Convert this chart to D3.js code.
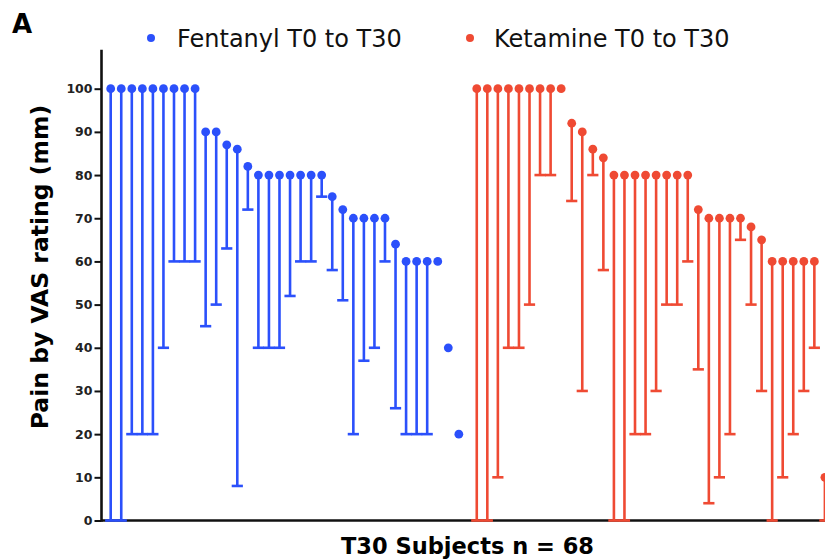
<!DOCTYPE html>
<html>
<head>
<meta charset="utf-8">
<script src="https://cdn.jsdelivr.net/npm/d3@7"></script>
<style>
  html, body { margin: 0; padding: 0; background: #fff; }
  svg { display: block; }
</style>
</head>
<body>
<svg id="chart" width="825" height="559"></svg>
<script>
// ---- Data ----
const fentanylT0  = [100,100,100,100,100,100,100,100,100,90,90,87,86,82,80,80,80,80,80,80,80,75,72,70,70,70,70,64,60,60,60,60,40,20];
const fentanylT30 = [0,0,20,20,20,40,60,60,60,45,50,63,8,72,40,40,40,52,60,60,75,58,51,20,37,40,60,26,20,20,20,60,40,20];
const ketamineT0  = [100,100,100,100,100,100,100,100,100,92,90,86,84,80,80,80,80,80,80,80,80,72,70,70,70,70,68,65,60,60,60,60,60,10];
const ketamineT30 = [0,0,10,40,40,50,80,80,100,74,30,80,58,0,0,20,20,30,50,50,60,35,4,10,20,65,50,30,0,10,20,30,40,0];
const yTicks = [0,10,20,30,40,50,60,70,80,90,100];
const seriesNames = ["Fentanyl T0 to T30", "Ketamine T0 to T30"];
const colors = ["#2b50fb", "#ef4a33"];
const groupGap = 0.7; // extra slot spacing between the two groups

// ---- Build subjects ----
const subjects = [];
fentanylT0.forEach((v, i) => subjects.push({g: 0, slot: i, t0: v, t30: fentanylT30[i]}));
ketamineT0.forEach((v, j) => subjects.push({g: 1, slot: fentanylT0.length + groupGap + j, t0: v, t30: ketamineT30[j]}));

const svg = d3.select("#chart");
const font = "'DejaVu Sans', sans-serif";

const x = d3.scaleLinear()
  .domain([0, d3.max(subjects, d => d.slot)])
  .range([110.7, 824.9]);
const y = d3.scaleLinear().domain([0, 100]).range([520.5, 88.7]);

const axisX = 101.5;

// ---- Y axis ----
const yAxis = svg.append("g")
  .attr("transform", `translate(${axisX},0)`)
  .call(d3.axisLeft(y).tickValues(yTicks).tickSize(7).tickPadding(2).tickSizeOuter(0));
yAxis.select(".domain").remove();
yAxis.selectAll(".tick line").attr("stroke", "#111").attr("stroke-width", 2);
yAxis.selectAll(".tick text")
  .attr("fill", "#222")
  .style("font-family", font)
  .style("font-weight", "bold")
  .style("font-size", "12.5px");
svg.append("line")
  .attr("x1", axisX).attr("x2", axisX)
  .attr("y1", y(109)).attr("y2", y(0) + 1.2)
  .attr("stroke", "#111").attr("stroke-width", 2.6);

// ---- X axis baseline ----
svg.append("line")
  .attr("x1", axisX).attr("x2", 825)
  .attr("y1", y(0)).attr("y2", y(0))
  .attr("stroke", "#111").attr("stroke-width", 2.6);

// ---- Marks ----
const capHalf = 5.6;
const marks = svg.append("g");
marks.selectAll("line.stem")
  .data(subjects.filter(d => d.t0 !== d.t30))
  .join("line")
  .attr("class", "stem")
  .attr("x1", d => x(d.slot)).attr("x2", d => x(d.slot))
  .attr("y1", d => y(d.t0)).attr("y2", d => y(d.t30))
  .attr("stroke", d => colors[d.g]).attr("stroke-width", 2.6);
marks.selectAll("line.cap")
  .data(subjects.filter(d => d.t0 !== d.t30))
  .join("line")
  .attr("class", "cap")
  .attr("x1", d => x(d.slot) - capHalf).attr("x2", d => x(d.slot) + capHalf)
  .attr("y1", d => y(d.t30)).attr("y2", d => y(d.t30))
  .attr("stroke", d => colors[d.g]).attr("stroke-width", 2.6);
marks.selectAll("circle")
  .data(subjects)
  .join("circle")
  .attr("cx", d => x(d.slot)).attr("cy", d => y(d.t0))
  .attr("r", 4.4)
  .attr("fill", d => colors[d.g]);

// ---- Legend ----
const legendPos = [{dx: 151, tx: 177}, {dx: 470, tx: 494}];
seriesNames.forEach((name, i) => {
  svg.append("circle").attr("cx", legendPos[i].dx).attr("cy", 38).attr("r", 4).attr("fill", colors[i]);
  svg.append("text")
    .attr("x", legendPos[i].tx).attr("y", 46.5)
    .style("font-family", font).style("font-size", "24px")
    .attr("fill", "#111")
    .text(name);
});

// ---- Titles ----
svg.append("text")
  .attr("x", 12).attr("y", 33)
  .style("font-family", font).style("font-size", "26px").style("font-weight", "bold")
  .attr("fill", "#000")
  .text("A");

svg.append("text")
  .attr("transform", "translate(48,267) rotate(-90)")
  .attr("text-anchor", "middle")
  .style("font-family", font).style("font-size", "23.5px").style("font-weight", "bold")
  .attr("fill", "#000")
  .text("Pain by VAS rating (mm)");

svg.append("text")
  .attr("x", 467.5).attr("y", 553.5)
  .attr("text-anchor", "middle")
  .style("font-family", font).style("font-size", "22.5px").style("font-weight", "bold")
  .attr("fill", "#000")
  .text("T30 Subjects n = 68");
</script>
</body>
</html>
